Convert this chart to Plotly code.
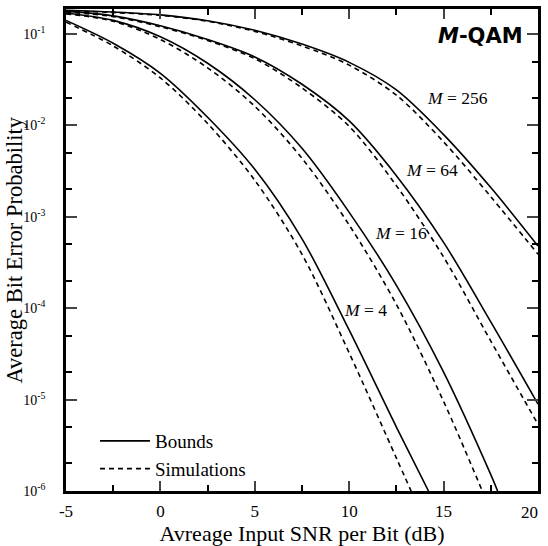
import plotly.graph_objects as go

# ---- data ----
snr_grid = [-5, -2.5, 0, 2.5, 5, 7.5, 10, 12.5, 15, 17.5, 20]

m4_bound_x = [-5, -2.5, 0, 2.5, 5, 7.5, 10, 12.5, 14.2]
m4_bound_y = [0.141, 0.0794, 0.0372, 0.0123, 3.31e-3, 5.75e-4, 5.75e-5, 5.01e-6, 1.0e-6]
m4_sim_x = [-5, -2.5, 0, 2.5, 5, 7.5, 10, 12.5, 13.28]
m4_sim_y = [0.135, 0.0741, 0.0331, 0.0105, 2.51e-3, 3.89e-4, 3.24e-5, 2.29e-6, 1.0e-6]

m16_bound_x = [-5, -2.5, 0, 2.5, 5, 7.5, 10, 12.5, 15, 17.5, 17.86]
m16_bound_y = [0.170, 0.141, 0.0933, 0.0479, 0.0191, 5.62e-3, 1.12e-3, 1.78e-4, 2.0e-5, 1.51e-6, 1.0e-6]
m16_sim_x = [-5, -2.5, 0, 2.5, 5, 7.5, 10, 12.5, 15, 17.05]
m16_sim_y = [0.166, 0.138, 0.0871, 0.0427, 0.0162, 4.37e-3, 8.13e-4, 1.10e-4, 9.55e-6, 1.0e-6]

m64_bound_y = [0.178, 0.158, 0.123, 0.0871, 0.0562, 0.0282, 0.0112, 2.82e-3, 5.25e-4, 7.08e-5, 8.91e-6]
m64_sim_y = [0.174, 0.155, 0.120, 0.0851, 0.0537, 0.0257, 9.77e-3, 2.19e-3, 3.63e-4, 4.37e-5, 5.37e-6]

m256_bound_y = [0.182, 0.174, 0.162, 0.140, 0.110, 0.0776, 0.0490, 0.0245, 7.94e-3, 2.09e-3, 4.79e-4]
m256_sim_y = [0.180, 0.172, 0.160, 0.138, 0.107, 0.0741, 0.0457, 0.0214, 6.61e-3, 1.66e-3, 3.89e-4]

y_tick_vals = [1e-6, 1e-5, 1e-4, 1e-3, 1e-2, 1e-1]
y_tick_text = ["10<sup>-6</sup>", "10<sup>-5</sup>", "10<sup>-4</sup>",
               "10<sup>-3</sup>", "10<sup>-2</sup>", "10<sup>-1</sup>"]
x_tick_vals = [-5, 0, 5, 10, 15, 20]
x_tick_text = ["-5", "0", "5", "10", "15", ""]
x_last_label = "20"   # drawn as an annotation, pulled in from the window edge as in the reference

x_title = "Avreage Input SNR per Bit (dB)"
y_title = "Average Bit Error Probability"
curve_labels = ["<i>M</i> = 4", "<i>M</i> = 16", "<i>M</i> = 64", "<i>M</i> = 256"]

SERIF = "Liberation Serif, Times New Roman, serif"

fig = go.Figure()

series = [
    (m4_bound_x, m4_bound_y, m4_sim_x, m4_sim_y),
    (m16_bound_x, m16_bound_y, m16_sim_x, m16_sim_y),
    (snr_grid, m64_bound_y, snr_grid, m64_sim_y),
    (snr_grid, m256_bound_y, snr_grid, m256_sim_y),
]

for i, (bx, by, sx, sy) in enumerate(series):
    fig.add_trace(go.Scatter(
        x=bx, y=by, mode="lines", name="Bounds", legendgroup="b",
        showlegend=(i == 0), line=dict(color="black", width=1.6, shape="spline", smoothing=0.9)))
    fig.add_trace(go.Scatter(
        x=sx, y=sy, mode="lines", name="Simulations", legendgroup="s",
        showlegend=(i == 0), line=dict(color="black", width=1.6, dash="5px,4px", shape="spline", smoothing=0.9)))

# curve labels (data coordinates; y given as log10 on log axis)
label_pos = [(10.87, -4.02), (12.72, -3.18), (14.37, -2.49), (15.74, -1.70)]
for txt, (ax_, ay_) in zip(curve_labels, label_pos):
    fig.add_annotation(x=ax_, y=ay_, xref="x", yref="y", text=txt, showarrow=False,
                       font=dict(family=SERIF, size=17.5, color="black"))

fig.add_annotation(x=0.9725, y=0.944, xref="paper", yref="paper", xanchor="right", yanchor="middle",
                   text="<b><i>M</i>-QAM</b>", showarrow=False,
                   font=dict(family="DejaVu Sans, sans-serif", size=21, color="black"))

fig.add_annotation(x=x_tick_vals[-1], y=0, xref="x", yref="paper", xanchor="right", yanchor="top",
                   xshift=2, yshift=-10, text=x_last_label, showarrow=False,
                   font=dict(family=SERIF, size=17, color="black"))

# y-axis title placed as a rotated annotation so it sits clear of the tick labels
fig.add_annotation(x=0, y=0.5, xref="paper", yref="paper", xanchor="right", yanchor="middle",
                   xshift=-38, textangle=-90, text=y_title, showarrow=False,
                   font=dict(family=SERIF, size=22.5, color="black"))

fig.update_xaxes(
    range=[-5, 20], tickvals=x_tick_vals, ticktext=x_tick_text, ticks="inside", ticklen=10, tickwidth=2,
    ticklabelstandoff=3,
    minor=dict(dtick=2.5, tick0=-5, ticks="inside", ticklen=6, tickwidth=1.5, tickcolor="black"),
    showline=True, linecolor="black", linewidth=2.5, mirror="allticks", showgrid=False, zeroline=False,
    automargin=False,
    tickfont=dict(family=SERIF, size=17, color="black"),
    title=dict(text=x_title, font=dict(family=SERIF, size=22, color="black"), standoff=3),
)
fig.update_yaxes(
    type="log", range=[-6, -0.726], tickvals=y_tick_vals, ticktext=y_tick_text,
    ticks="inside", ticklen=11, tickwidth=2, ticklabelstandoff=15,
    minor=dict(ticks="inside", ticklen=6, tickwidth=1.5, tickcolor="black", showgrid=False),
    showline=True, linecolor="black", linewidth=2.5, mirror="allticks", showgrid=False, zeroline=False,
    automargin=False,
    tickfont=dict(family=SERIF, size=14, color="black"),
)

fig.update_layout(
    width=548, height=546,
    margin=dict(l=66, r=10, t=9, b=55),
    paper_bgcolor="white", plot_bgcolor="white",
    legend=dict(x=0.0614, y=0.143, xanchor="left", yanchor="top", bgcolor="rgba(0,0,0,0)",
                font=dict(family=SERIF, size=19, color="black"), tracegroupgap=0, itemwidth=50),
    showlegend=True,
)

# remove the browser's default 8px page margin so the figure fills the window exactly
fig.write_html("out.html", config={"displayModeBar": False},
               post_script="document.body.style.margin='0px';")
